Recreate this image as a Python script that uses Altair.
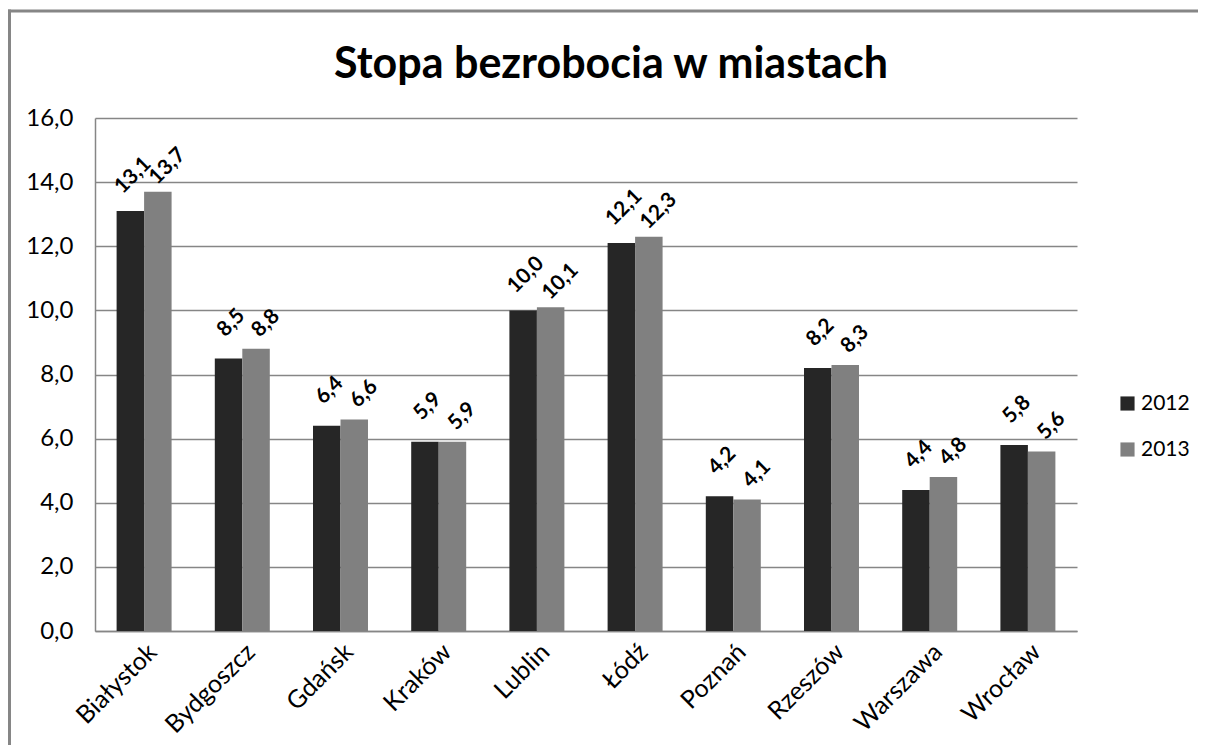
import altair as alt
import pandas as pd

cities = ["Białystok", "Bydgoszcz", "Gdańsk", "Kraków", "Lublin",
          "Łódź", "Poznań", "Rzeszów", "Warszawa", "Wrocław"]
v2012 = [13.1, 8.5, 6.4, 5.9, 10.0, 12.1, 4.2, 8.2, 4.4, 5.8]
v2013 = [13.7, 8.8, 6.6, 5.9, 10.1, 12.3, 4.1, 8.3, 4.8, 5.6]
years = ["2012", "2013"]
colors = ["#262626", "#808080"]
title_text = "Stopa bezrobocia w miastach"

rows = []
for c, a, b in zip(cities, v2012, v2013):
    rows.append({"city": c, "year": "2012", "value": a})
    rows.append({"city": c, "year": "2013", "value": b})
df = pd.DataFrame(rows)

FONT = "Lato"
GRID = "#868686"

x_enc = alt.X("city:N", sort=cities, title=None,
              scale=alt.Scale(paddingInner=0.44, paddingOuter=0.22),
              axis=alt.Axis(labelAngle=-45, labelFontSize=25, labelFont=FONT,
                            labelColor="#000000", ticks=False, domainColor=GRID,
                            domainWidth=1.5, labelPadding=8))
y_enc = alt.Y("value:Q", title=None,
              scale=alt.Scale(domain=[0, 16], nice=False),
              axis=alt.Axis(values=[0, 2, 4, 6, 8, 10, 12, 14, 16],
                            labelExpr="replace(format(datum.value, '.1f'), '.', ',')",
                            labelFontSize=24, labelFont=FONT, labelColor="#000000",
                            ticks=False, domainColor=GRID, domainWidth=1.5,
                            gridColor=GRID, gridWidth=1.5, labelPadding=22))

base = alt.Chart(df)

bars = base.mark_bar().encode(
    x=x_enc,
    xOffset=alt.XOffset("year:N", sort=years),
    y=y_enc,
    color=alt.Color("year:N", sort=years,
                    scale=alt.Scale(domain=years, range=colors),
                    legend=alt.Legend(title=None, orient="none", legendX=1022, legendY=275,
                                      symbolType="square", symbolSize=200,
                                      symbolStrokeWidth=0, labelFontSize=21,
                                      labelFont=FONT, labelColor="#000000",
                                      rowPadding=24, labelOffset=3)),
)


def labels(year, dx, dy):
    return base.transform_filter(alt.datum.year == year).transform_calculate(
        label="replace(format(datum.value, '.1f'), '.', ',')"
    ).mark_text(
        angle=315, align="center", baseline="middle", dx=dx, dy=dy,
        fontWeight="bold", fontSize=21, font=FONT, color="#000000"
    ).encode(
        x=alt.X("city:N", sort=cities),
        xOffset=alt.XOffset("year:N", sort=years),
        y="value:Q",
        text=alt.Text("label:N"),
    )


lab12 = labels("2012", 27, -23)
lab13 = labels("2013", 25, -11)

one = pd.DataFrame({"t": [title_text]})
title = alt.Chart(one).mark_text(
    font=FONT, fontSize=43, fontWeight="bold", color="#000000",
    align="center", baseline="alphabetic"
).encode(text="t:N", x=alt.value(516), y=alt.value(-40))

frame_top = alt.Chart(one).mark_rect(color=GRID, strokeWidth=0).encode(
    x=alt.value(-87), x2=alt.value(1103), y=alt.value(-108.5), y2=alt.value(-105.5))
frame_left = alt.Chart(one).mark_rect(color=GRID, strokeWidth=0).encode(
    x=alt.value(-87), x2=alt.value(-84), y=alt.value(-108.5), y2=alt.value(630))

chart = alt.layer(bars, lab12, lab13, title, frame_top, frame_left).properties(
    width=982, height=513,
    autosize=alt.AutoSizeParams(type="none"),
    padding={"left": 87, "top": 110, "right": 121, "bottom": 114},
).configure_view(stroke=None).configure_axisX(grid=False)

chart.save("out.html", embed_options={"renderer": "svg", "actions": False})
